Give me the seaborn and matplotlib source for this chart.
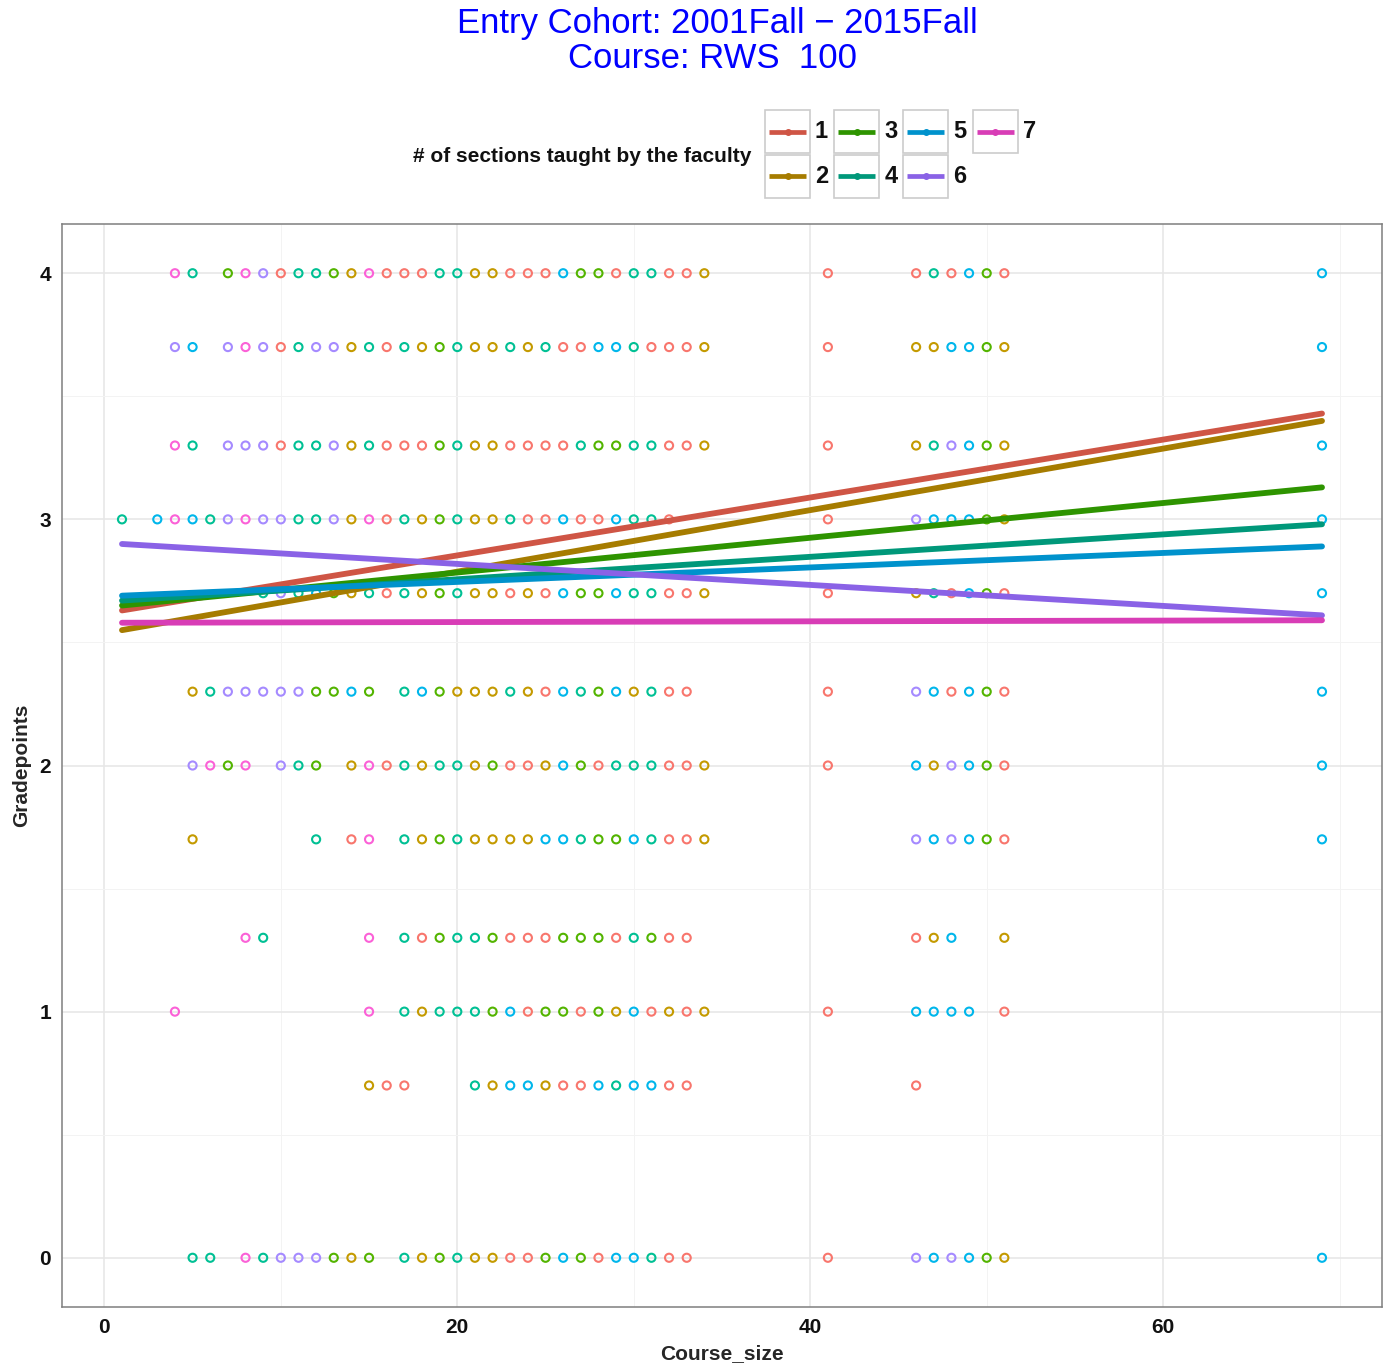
import numpy as np
import pandas as pd
import matplotlib
matplotlib.use("Agg")
import matplotlib.pyplot as plt
import seaborn as sns
from matplotlib.patches import Rectangle

# ---------------------------------------------------------------- data
sections = [1, 2, 3, 4, 5, 6, 7]
point_colors = ["#F8766D", "#C49A00", "#53B400", "#00C094", "#00B6EB", "#A58AFF", "#FB61D7"]
line_colors = ["#CF5545", "#A67C00", "#2E9400", "#00987A", "#0092CC", "#8A62E6", "#D83DB6"]

# course sizes and number of sections per grade level
size_4_0 = [4, 5, 7, 8, 9, 10, 11, 12, 13, 14, 15, 16, 17, 18, 19, 20, 21, 22, 23, 24, 25, 26, 27, 28, 29, 30, 31, 32, 33, 34, 41, 46, 47, 48, 49, 50, 51, 69]
sect_4_0 = [7, 4, 3, 7, 6, 1, 4, 4, 3, 2, 7, 1, 1, 1, 4, 4, 2, 2, 1, 1, 1, 5, 3, 3, 1, 4, 4, 1, 1, 2, 1, 1, 4, 1, 5, 3, 1, 5]

size_3_7 = [4, 5, 7, 8, 9, 10, 11, 12, 13, 14, 15, 16, 17, 18, 19, 20, 21, 22, 23, 24, 25, 26, 27, 28, 29, 30, 31, 32, 33, 34, 41, 46, 47, 48, 49, 50, 51, 69]
sect_3_7 = [6, 5, 6, 7, 6, 1, 4, 6, 6, 2, 4, 1, 4, 2, 3, 4, 2, 2, 4, 2, 4, 1, 1, 5, 5, 4, 1, 1, 1, 2, 1, 2, 2, 5, 5, 3, 2, 5]

size_3_3 = [4, 5, 7, 8, 9, 10, 11, 12, 13, 14, 15, 16, 17, 18, 19, 20, 21, 22, 23, 24, 25, 26, 27, 28, 29, 30, 31, 32, 33, 34, 41, 46, 47, 48, 49, 50, 51, 69]
sect_3_3 = [7, 4, 6, 6, 6, 1, 4, 4, 6, 2, 4, 1, 1, 1, 3, 4, 2, 2, 1, 1, 1, 1, 4, 3, 3, 4, 4, 1, 1, 2, 1, 2, 4, 6, 5, 3, 2, 5]

size_3_0 = [1, 3, 4, 5, 6, 7, 8, 9, 10, 11, 12, 13, 14, 15, 16, 17, 18, 19, 20, 21, 22, 23, 24, 25, 26, 27, 28, 29, 30, 31, 32, 41, 46, 47, 48, 49, 50, 51, 69]
sect_3_0 = [4, 5, 7, 5, 4, 6, 7, 6, 6, 4, 4, 6, 2, 7, 1, 4, 2, 3, 4, 2, 2, 4, 1, 1, 5, 1, 1, 5, 4, 4, 1, 1, 6, 5, 5, 5, 3, 2, 5]

size_2_7 = [9, 10, 11, 12, 13, 14, 15, 16, 17, 18, 19, 20, 21, 22, 23, 24, 25, 26, 27, 28, 29, 30, 31, 32, 33, 34, 41, 46, 47, 48, 49, 50, 51, 69]
sect_2_7 = [4, 6, 4, 5, 3, 2, 4, 1, 4, 2, 3, 4, 2, 2, 1, 2, 1, 5, 3, 3, 5, 4, 4, 1, 1, 2, 1, 2, 4, 1, 5, 3, 1, 5]

size_2_3 = [5, 6, 7, 8, 9, 10, 11, 12, 13, 14, 15, 17, 18, 19, 20, 21, 22, 23, 24, 25, 26, 27, 28, 29, 30, 31, 32, 33, 41, 46, 47, 48, 49, 50, 51, 69]
sect_2_3 = [2, 4, 6, 6, 6, 6, 6, 3, 3, 5, 3, 4, 5, 3, 2, 2, 2, 4, 2, 1, 5, 4, 3, 5, 2, 4, 1, 1, 1, 6, 5, 1, 5, 3, 1, 5]

size_2_0 = [5, 6, 7, 8, 10, 11, 12, 14, 15, 16, 17, 18, 19, 20, 21, 22, 23, 24, 25, 26, 27, 28, 29, 30, 31, 32, 33, 34, 41, 46, 47, 48, 49, 50, 51, 69]
sect_2_0 = [6, 7, 3, 7, 6, 4, 3, 2, 7, 1, 4, 2, 4, 4, 2, 3, 1, 1, 2, 5, 3, 1, 4, 4, 4, 1, 1, 2, 1, 5, 2, 6, 5, 3, 1, 5]

size_1_7 = [5, 12, 14, 15, 17, 18, 19, 20, 21, 22, 23, 24, 25, 26, 27, 28, 29, 30, 31, 32, 33, 34, 46, 47, 48, 49, 50, 51, 69]
sect_1_7 = [2, 4, 1, 7, 4, 2, 3, 4, 2, 2, 2, 2, 5, 5, 4, 3, 3, 5, 4, 1, 1, 2, 6, 5, 6, 5, 3, 1, 5]

size_1_3 = [8, 9, 15, 17, 18, 19, 20, 21, 22, 23, 24, 25, 26, 27, 28, 29, 30, 31, 32, 33, 46, 47, 48, 51]
sect_1_3 = [7, 4, 7, 4, 1, 3, 4, 4, 3, 1, 1, 1, 3, 3, 3, 1, 4, 3, 1, 1, 1, 2, 5, 2]

size_1_0 = [4, 15, 17, 18, 19, 20, 21, 22, 23, 24, 25, 26, 27, 28, 29, 30, 31, 32, 33, 34, 41, 46, 47, 48, 49, 51]
sect_1_0 = [7, 7, 4, 2, 4, 4, 4, 3, 5, 1, 3, 3, 1, 3, 2, 5, 1, 2, 1, 2, 1, 5, 5, 5, 5, 1]

size_0_7 = [15, 16, 17, 21, 22, 23, 24, 25, 26, 27, 28, 29, 30, 31, 32, 33, 46]
sect_0_7 = [2, 1, 1, 4, 2, 5, 5, 2, 1, 1, 5, 4, 5, 5, 1, 1, 1]

size_0_0 = [5, 6, 8, 9, 10, 11, 12, 13, 14, 15, 17, 18, 19, 20, 21, 22, 23, 24, 25, 26, 27, 28, 29, 30, 31, 32, 33, 41, 46, 47, 48, 49, 50, 51, 69]
sect_0_0 = [4, 4, 7, 4, 6, 6, 6, 3, 2, 3, 4, 2, 3, 4, 2, 2, 1, 1, 3, 5, 3, 1, 5, 5, 4, 1, 1, 1, 6, 5, 6, 5, 3, 2, 5]

grade_levels = [4.0, 3.7, 3.3, 3.0, 2.7, 2.3, 2.0, 1.7, 1.3, 1.0, 0.7, 0.0]
size_rows = [size_4_0, size_3_7, size_3_3, size_3_0, size_2_7, size_2_3,
             size_2_0, size_1_7, size_1_3, size_1_0, size_0_7, size_0_0]
sect_rows = [sect_4_0, sect_3_7, sect_3_3, sect_3_0, sect_2_7, sect_2_3,
             sect_2_0, sect_1_7, sect_1_3, sect_1_0, sect_0_7, sect_0_0]

# linear fit per number of sections, evaluated over the course-size range
fit_x_start = 1
fit_x_end = 69
fit_y_start = [2.63, 2.55, 2.65, 2.67, 2.69, 2.90, 2.58]
fit_y_end = [3.43, 3.40, 3.13, 2.98, 2.89, 2.61, 2.59]

# ---------------------------------------------------------------- frames
pts = pd.concat(
    [pd.DataFrame({"Course_size": s, "Gradepoints": g, "sections": n})
     for g, s, n in zip(grade_levels, size_rows, sect_rows)],
    ignore_index=True)

fits = pd.DataFrame({
    "Course_size": [fit_x_start, fit_x_end] * len(sections),
    "Gradepoints": [v for a, b in zip(fit_y_start, fit_y_end) for v in (a, b)],
    "sections": [n for n in sections for _ in range(2)],
})

# ---------------------------------------------------------------- figure
sns.set_theme(style="white")
plt.rcParams["font.family"] = ["Liberation Sans", "DejaVu Sans"]

W, H = 1386, 1364
fig = plt.figure(figsize=(W / 100, H / 100), dpi=100)
fig.patch.set_facecolor("white")

L, R, T, B = 62, 1382, 224, 1307
ax = fig.add_axes([L / W, 1 - B / H, (R - L) / W, (B - T) / H])

sns.scatterplot(data=pts, x="Course_size", y="Gradepoints", hue="sections",
                hue_order=sections, palette=point_colors, marker="o", s=34,
                linewidth=1.5, legend=False, ax=ax, zorder=2)
coll = ax.collections[0]
coll.set_edgecolors(coll.get_facecolors())
coll.set_facecolors("none")

sns.lineplot(data=fits, x="Course_size", y="Gradepoints", hue="sections",
             hue_order=sections, palette=line_colors, linewidth=4.2,
             estimator=None, sort=False, legend=False, ax=ax, zorder=3)

ax.set_xlim(-2.4, 72.4)
ax.set_ylim(-0.2, 4.2)
ax.set_xticks([0, 20, 40, 60])
ax.set_yticks([0, 1, 2, 3, 4])
ax.set_xticks([10, 30, 50, 70], minor=True)
ax.set_yticks([0.5, 1.5, 2.5, 3.5], minor=True)
ax.grid(True, which="major", color="#E6E6E6", linewidth=1.1, zorder=0)
ax.grid(True, which="minor", color="#F3F3F3", linewidth=0.7, zorder=0)
ax.set_axisbelow(True)
for sp in ax.spines.values():
    sp.set_color("#7F7F7F")
    sp.set_linewidth(1.1)
ax.tick_params(axis="both", which="major", length=5, width=1, color="#7F7F7F",
               labelsize=15, labelcolor="#111111", pad=3)
ax.tick_params(axis="both", which="minor", length=0)
for lbl in ax.get_xticklabels() + ax.get_yticklabels():
    lbl.set_fontweight("bold")
ax.set_xlabel("Course_size", fontsize=15, fontweight="bold", labelpad=5)
ax.set_ylabel("Gradepoints", fontsize=15, fontweight="bold", labelpad=6)

# ---------------------------------------------------------------- title and legend
ov = fig.add_axes([0, 0, 1, 1], facecolor="none")
ov.set_xlim(0, W)
ov.set_ylim(H, 0)
ov.axis("off")

ov.text(717, 23, "Entry Cohort: 2001Fall \u2212 2015Fall", ha="center", va="center",
        color="#0000FF", fontsize=25)
ov.text(712, 59, "Course: RWS  100", ha="center", va="center",
        color="#0000FF", fontsize=25)

ov.text(751, 156, "# of sections taught by the faculty", ha="right", va="center",
        fontsize=15, fontweight="bold", color="#111111")

for i, (lab, c) in enumerate(zip(sections, line_colors)):
    col, row = divmod(i, 2)
    bx = 765 + col * 69.2
    by = 110 + row * 44.5
    ov.add_patch(Rectangle((bx, by), 45, 43, facecolor="white",
                           edgecolor="#CCCCCC", linewidth=1.2))
    ov.plot([bx + 4, bx + 41], [by + 21.5, by + 21.5], color=c, linewidth=3.4,
            solid_capstyle="butt")
    ov.plot([bx + 22.5], [by + 21.5], marker="o", markersize=4, color=c)
    ov.text(bx + 50, by + 22, str(lab), ha="left", va="center", fontsize=17,
            fontweight="bold", color="#111111")

fig.savefig("out.png", dpi=100, facecolor="white")
